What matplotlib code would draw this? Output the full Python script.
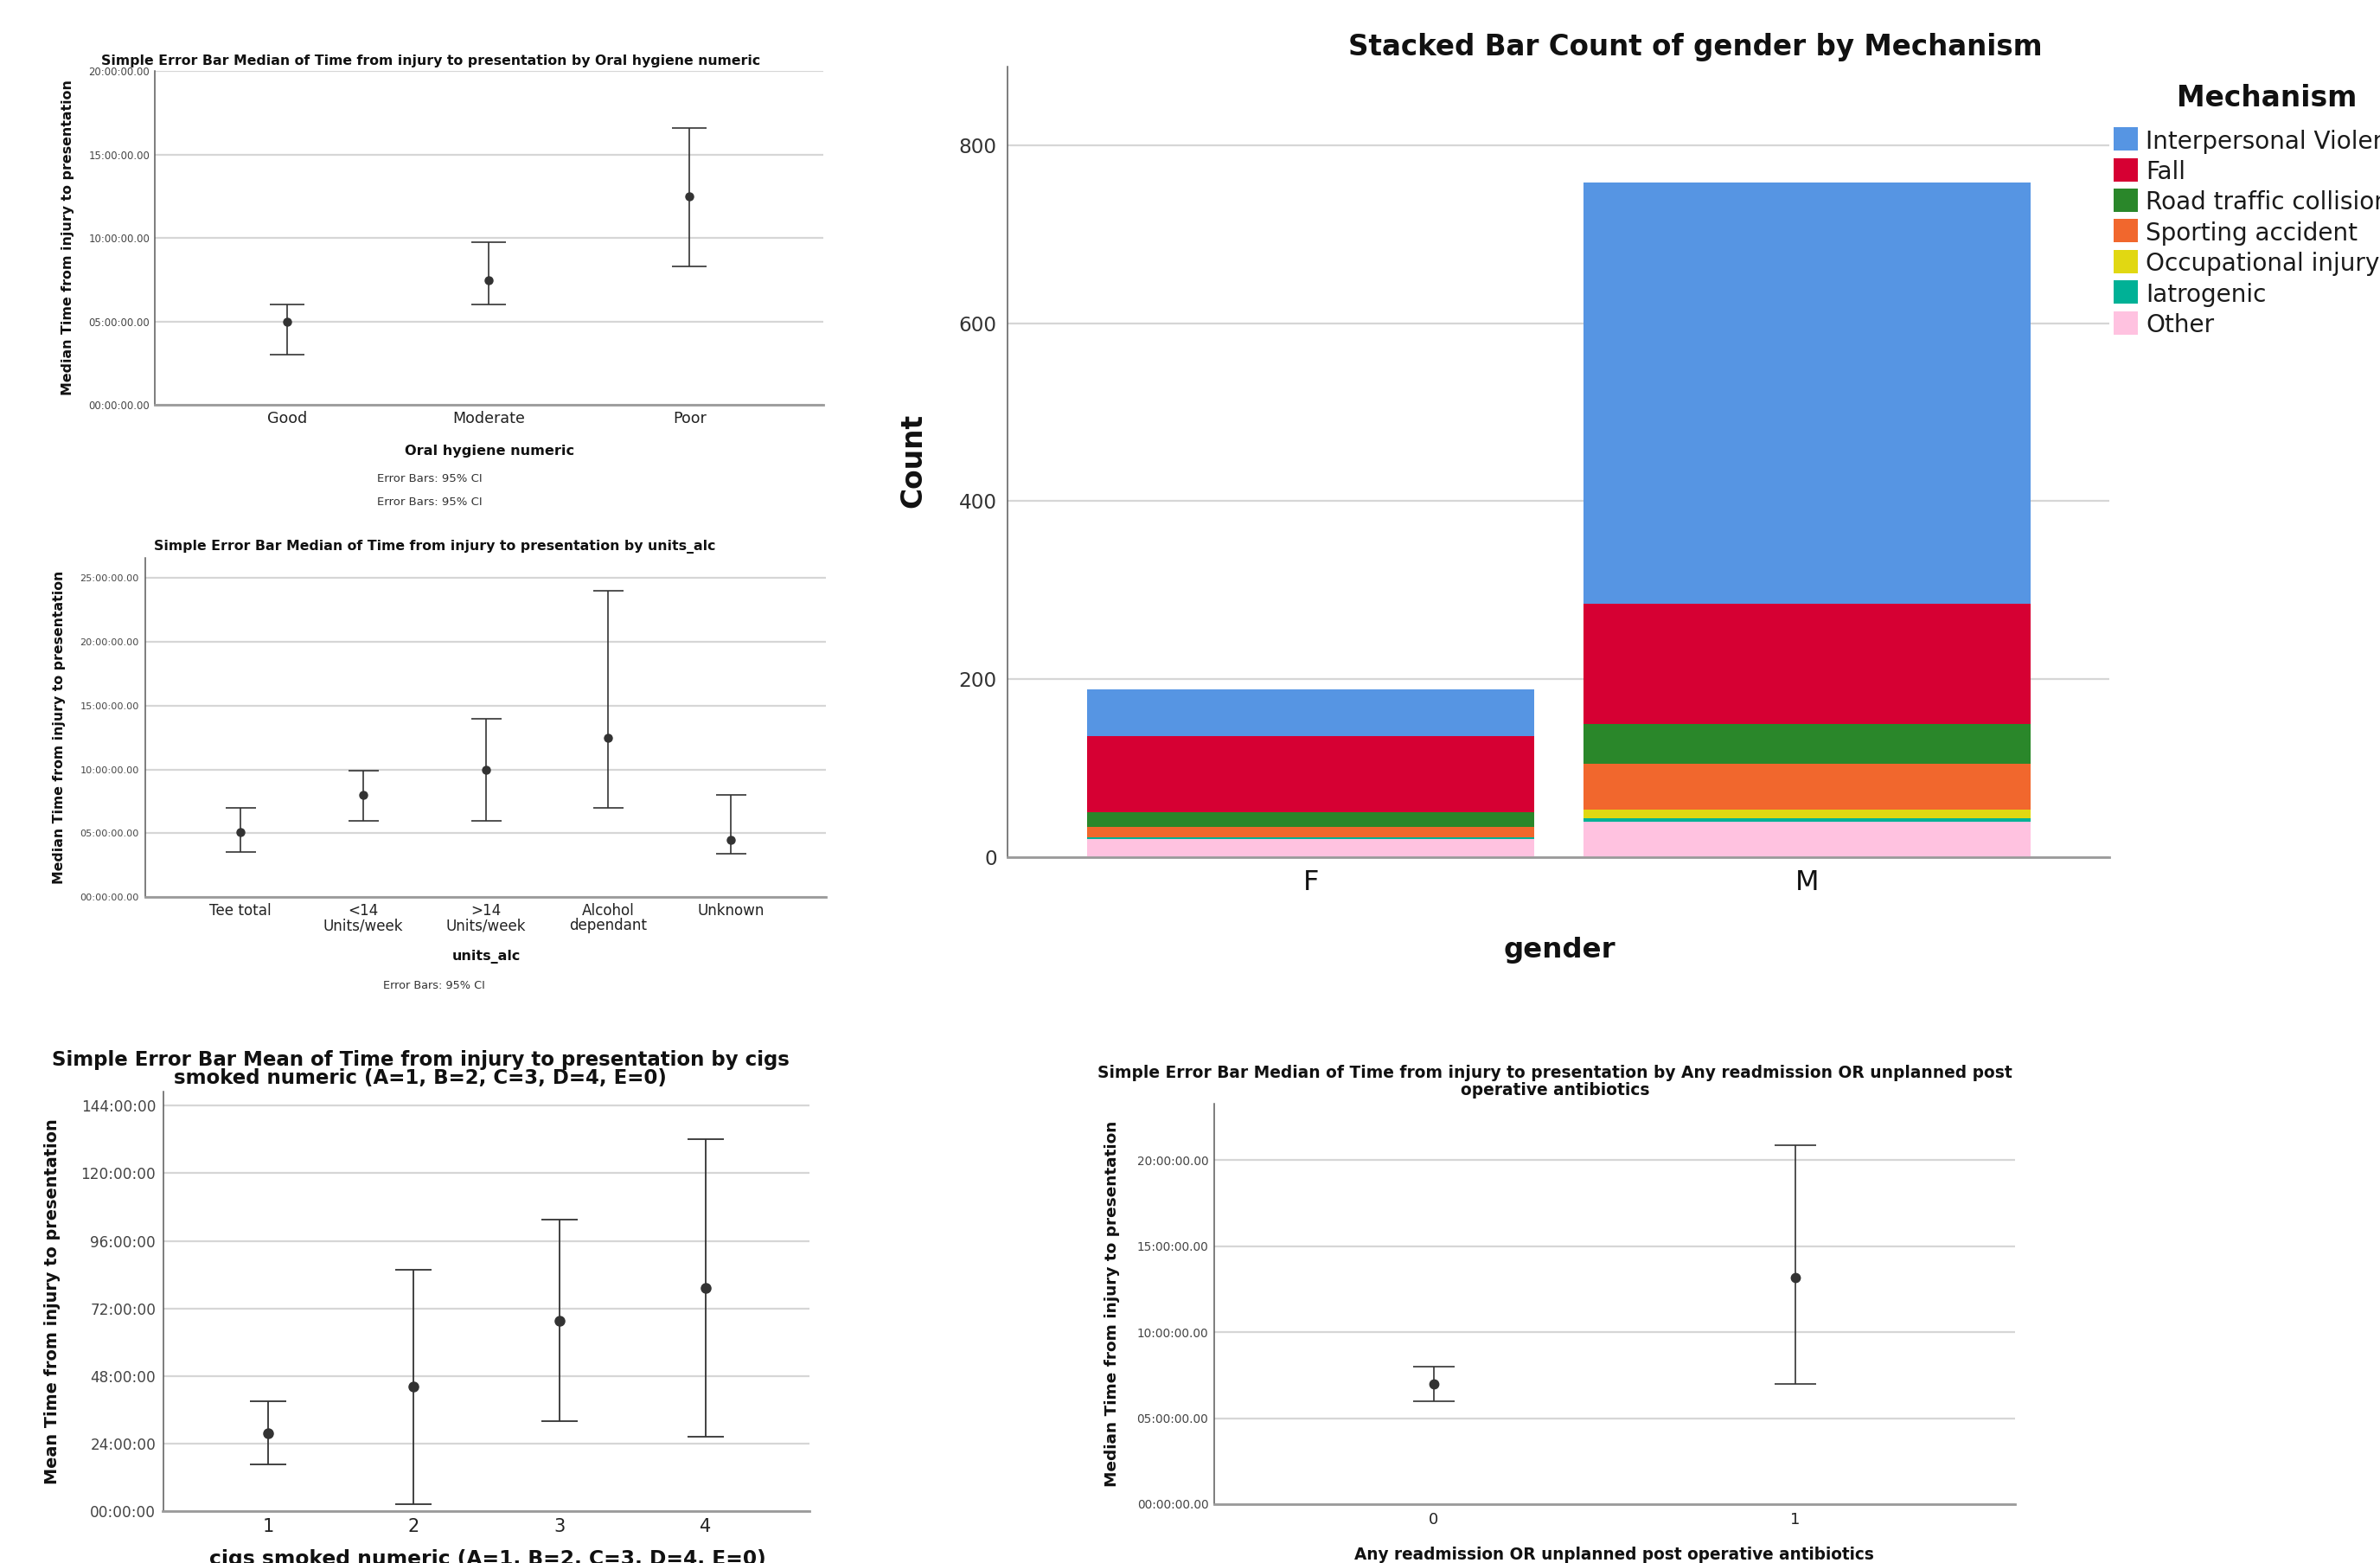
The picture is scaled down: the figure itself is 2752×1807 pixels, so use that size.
import matplotlib
matplotlib.use('Agg')
import matplotlib.pyplot as plt
import numpy as np
from matplotlib.patches import Rectangle
from matplotlib.ticker import FuncFormatter

# ---- data (hours for the error bar charts, counts for the stacked bars) ----
oral_cats = ['Good', 'Moderate', 'Poor']
oral_median = [5.0, 7.5, 12.5]
oral_lo = [3.0, 6.0, 8.3]
oral_hi = [6.0, 9.75, 16.6]

alc_cats = ['Tee total', '<14\nUnits/week', '>14\nUnits/week', 'Alcohol\ndependant', 'Unknown']
alc_median = [5.1, 8.0, 10.0, 12.5, 4.5]
alc_lo = [3.55, 6.0, 6.0, 7.0, 3.4]
alc_hi = [7.0, 9.9, 14.0, 24.0, 8.0]

cigs_cats = ['1', '2', '3', '4']
cigs_mean = [27.6, 44.2, 67.6, 79.2]
cigs_lo = [16.5, 2.5, 31.9, 26.3]
cigs_hi = [38.9, 85.8, 103.6, 132.1]

readm_cats = ['0', '1']
readm_median = [7.0, 13.2]
readm_lo = [6.0, 7.0]
readm_hi = [8.0, 20.9]

genders = ['F', 'M']
mechanisms = ['Interpersonal Violence', 'Fall', 'Road traffic collision', 'Sporting accident',
              'Occupational injury', 'Iatrogenic', 'Other']
count_F = [53, 85, 17, 12, 0, 2, 20]
count_M = [473, 135, 45, 52, 9, 4, 40]
mech_colors = ['#5695E3', '#D60033', '#2A872A', '#F1672D', '#E1D812', '#00B196', '#FFC2E0']

W, H = 2752, 1807
plt.rcParams['font.family'] = 'DejaVu Sans'
fig = plt.figure(figsize=(W / 100, H / 100), dpi=100)

EB = '#333333'
GRID = '#D6D6D6'
TXT = '#111111'
fits = []


def axes_px(x0, y0, x1, y1):
    return fig.add_axes([x0 / W, 1 - y1 / H, (x1 - x0) / W, (y1 - y0) / H])


def text_px(x, y, s, length=None, follow=(), **kw):
    kw.setdefault('ha', 'center')
    kw.setdefault('va', 'baseline')
    kw.setdefault('color', TXT)
    t = fig.text(x / W, 1 - y / H, s, **kw)
    if length:
        fits.append((t, length, follow))
    return t


def style_axes(ax, ytick_size, xtick_size, ypad, xpad):
    for s in ('top', 'right'):
        ax.spines[s].set_visible(False)
    ax.spines['left'].set_color('#5a5a5a')
    ax.spines['left'].set_linewidth(1.1)
    ax.spines['bottom'].set_color('#9a9a9a')
    ax.spines['bottom'].set_linewidth(2.0)
    ax.grid(axis='y', color=GRID, lw=1.6)
    ax.set_axisbelow(True)
    ax.tick_params(axis='y', length=0, labelsize=ytick_size, pad=ypad, labelcolor='#444444')
    ax.tick_params(axis='x', length=0, labelsize=xtick_size, pad=xpad, labelcolor='#222222')


def error_panel(box, cats, centre, lo, hi, xlim, ylim, step, fmt,
                ytick_size, xtick_size, ypad, xpad, cap, ms, lw=1.2):
    ax = axes_px(*box)
    x = np.arange(len(cats))
    centre = np.array(centre)
    yerr = [centre - np.array(lo), np.array(hi) - centre]
    ax.errorbar(x, centre, yerr=yerr, fmt='o', color=EB, ms=ms, capsize=cap,
                elinewidth=lw, capthick=lw, zorder=3)
    ax.set_xlim(*xlim)
    ax.set_ylim(*ylim)
    ax.set_yticks(np.arange(0, ylim[1] + 0.01, step))
    ax.yaxis.set_major_formatter(FuncFormatter(fmt))
    ax.set_xticks(x, cats)
    style_axes(ax, ytick_size, xtick_size, ypad, xpad)
    return ax


hms = lambda v, _: '%02d:00:00.00' % int(round(v))
hm = lambda v, _: '%02d:00:00' % int(round(v))

# ---- panel 1: oral hygiene ----
error_panel((178.7, 82.3, 951.9, 468.3), oral_cats, oral_median, oral_lo, oral_hi,
            (-0.661, 2.665), (0, 20), 5, hms, 8.4, 12.6, 3.9, 4.7, 14.6, 6.5)
text_px(498, 75, 'Simple Error Bar Median of Time from injury to presentation by Oral hygiene numeric',
        length=762, fontweight='bold', fontsize=10)
text_px(79, 275, 'Median Time from injury to presentation', length=363,
        rotation=90, va='center', fontweight='bold', fontsize=10)
text_px(565.6, 526, 'Oral hygiene numeric', length=195, fontweight='bold', fontsize=10)
text_px(497, 557, 'Error Bars: 95% CI', length=121, fontsize=8, color='#333333')
text_px(497, 584, 'Error Bars: 95% CI', length=121, fontsize=8, color='#333333')

# ---- panel 2: units of alcohol ----
ax2 = error_panel((167.5, 644.6, 955, 1037.3), alc_cats, alc_median, alc_lo, alc_hi,
                  (-0.78, 4.776), (0, 26.6), 5, hms, 8.1, 12.1, 4.7, 5.0, 12.6, 6.5)
for lbl in ax2.get_xticklabels():
    lbl.set_linespacing(0.92)
text_px(503, 635.7, 'Simple Error Bar Median of Time from injury to presentation by units_alc',
        length=646, fontweight='bold', fontsize=10)
text_px(68.75, 841, 'Median Time from injury to presentation', length=360,
        rotation=90, va='center', fontweight='bold', fontsize=10)
text_px(562, 1110.5, 'units_alc', length=79, fontweight='bold', fontsize=10)
text_px(502, 1142.6, 'Error Bars: 95% CI', length=118.5, fontsize=8, color='#333333')

# ---- panel 3: cigarettes ----
error_panel((188.5, 1262, 936, 1747), cigs_cats, cigs_mean, cigs_lo, cigs_hi,
            (-0.72, 3.714), (0, 149), 24, hm, 12.2, 15, 6.0, 6.0, 15.2, 8, lw=1.3)
t3b = text_px(486, 1252.7, 'smoked numeric (A=1, B=2, C=3, D=4, E=0)', fontweight='bold', fontsize=10)
text_px(486, 1231.7, 'Simple Error Bar Mean of Time from injury to presentation by cigs',
        length=856, follow=(t3b,), fontweight='bold', fontsize=10)
text_px(60.7, 1504.5, 'Mean Time from injury to presentation', length=421,
        rotation=90, va='center', fontweight='bold', fontsize=10)
text_px(564, 1809, 'cigs smoked numeric (A=1, B=2, C=3, D=4, E=0)', length=644,
        fontweight='bold', fontsize=10)

# ---- panel 4: readmission ----
error_panel((1403.6, 1275.8, 2330, 1739), readm_cats, readm_median, readm_lo, readm_hi,
            (-0.608, 1.609), (0, 23.3), 5, hms, 9.8, 13, 4.5, 6.6, 17, 7.5)
t4b = text_px(1798, 1266, 'operative antibiotics', fontweight='bold', fontsize=10)
text_px(1797.7, 1246, 'Simple Error Bar Median of Time from injury to presentation by Any readmission OR unplanned post',
        length=1055, follow=(t4b,), fontweight='bold', fontsize=10)
text_px(1285.7, 1507.5, 'Median Time from injury to presentation', length=423,
        rotation=90, va='center', fontweight='bold', fontsize=10)
text_px(1866, 1803, 'Any readmission OR unplanned post operative antibiotics', length=604,
        fontweight='bold', fontsize=10)

# ---- stacked bar: gender by mechanism ----
axs = axes_px(1165, 77.2, 2439, 991)
xg = np.arange(len(genders))
counts = np.array([count_F, count_M])  # rows: gender, cols: mechanism
bottom = np.zeros(len(genders))
for j in range(len(mechanisms) - 1, -1, -1):  # "Other" sits at the bottom
    axs.bar(xg, counts[:, j], width=0.9, bottom=bottom, color=mech_colors[j], lw=0, zorder=2)
    bottom += counts[:, j]
axs.set_xlim(-0.611, 1.609)
axs.set_ylim(0, 888)
axs.set_yticks([0, 200, 400, 600, 800])
axs.set_xticks(xg, genders)
style_axes(axs, 16.7, 23, 8.9, 10)
axs.tick_params(axis='y', labelcolor='#333333')
axs.tick_params(axis='x', labelcolor='#111111')

text_px(1960, 64, 'Stacked Bar Count of gender by Mechanism', length=802,
        fontweight='bold', fontsize=20)
text_px(1055.6, 532, 'Count', length=109, rotation=90, va='center', fontweight='bold', fontsize=20)
text_px(1803, 1106.7, 'gender', length=129.3, fontweight='bold', fontsize=20)

# legend (runs off the right edge like the original)
text_px(2620.8, 122.7, 'Mechanism', length=208.3, fontweight='bold', fontsize=20)
leg_texts = []
for i, (name, col) in enumerate(zip(mechanisms, mech_colors)):
    cy = 160.7 + i * 35.4
    fig.patches.append(Rectangle((2444 / W, 1 - (cy + 13.4) / H), 27.7 / W, 26.8 / H,
                                 transform=fig.transFigure, facecolor=col, edgecolor='none'))
    leg_texts.append(text_px(2481, cy + 11, name, ha='left', fontsize=20, color='#1a1a1a'))
fits.append((leg_texts[3], 245.7, leg_texts[:3] + leg_texts[4:]))

# scale text so that its extent matches the original
renderer = fig.canvas.get_renderer()
for t, length, follow in fits:
    bb = t.get_window_extent(renderer)
    cur = bb.height if t.get_rotation() == 90 else bb.width
    size = t.get_fontsize() * length / cur
    t.set_fontsize(size)
    for f in follow:
        f.set_fontsize(size)

fig.savefig('out.png', dpi=100)
